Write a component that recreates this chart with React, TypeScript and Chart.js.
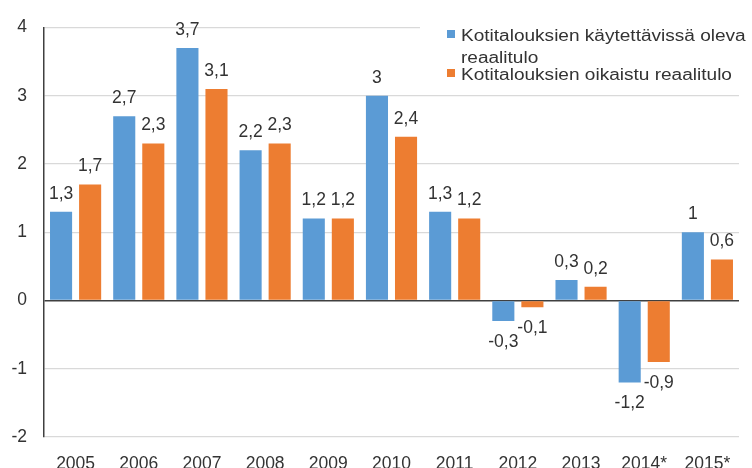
import React, { useEffect, useRef } from "react";
import { Chart, registerables } from "chart.js";

Chart.register(...registerables);

const categories = ["2005", "2006", "2007", "2008", "2009", "2010", "2011", "2012", "2013", "2014*", "2015*"];
const seriesDisposable = [1.3, 2.7, 3.7, 2.2, 1.2, 3, 1.3, -0.3, 0.3, -1.2, 1];
const seriesAdjusted = [1.7, 2.3, 3.1, 2.3, 1.2, 2.4, 1.2, -0.1, 0.2, -0.9, 0.6];
const seriesNames = ["Kotitalouksien käytettävissä oleva reaalitulo", "Kotitalouksien oikaistu reaalitulo"];
const legendLines = [["Kotitalouksien käytettävissä oleva", "reaalitulo"], ["Kotitalouksien oikaistu reaalitulo"]];
const colors = ["#5B9BD5", "#ED7D31"];

const FONT = "'Liberation Sans', Arial, sans-serif";
const TEXT = "#333333";

const labelPlugin = {
  id: "valueLabels",
  afterDatasetsDraw(chart: any) {
    const ctx = chart.ctx;
    ctx.save();
    ctx.font = `17.5px ${FONT}`;
    ctx.fillStyle = TEXT;
    ctx.textAlign = "center";
    ctx.textBaseline = "middle";
    chart.data.datasets.forEach((ds: any, di: number) => {
      const meta = chart.getDatasetMeta(di);
      meta.data.forEach((el: any, i: number) => {
        const v = ds.data[i];
        const txt = String(v).replace(".", ",");
        const y = v >= 0 ? el.y - 18 : el.y + 21;
        ctx.fillText(txt, el.x, y);
      });
    });
    ctx.restore();
  },
  afterDraw(chart: any) {
    const ctx = chart.ctx;
    ctx.save();
    ctx.fillStyle = "#ffffff";
    ctx.fillRect(420, 25, 332, 70);
    ctx.fillStyle = colors[0];
    ctx.fillRect(447, 30, 8, 8);
    ctx.fillStyle = colors[1];
    ctx.fillRect(447, 69, 8, 8);
    ctx.fillStyle = TEXT;
    ctx.font = `16px ${FONT}`;
    ctx.textAlign = "left";
    ctx.textBaseline = "alphabetic";
    const drawLine = (t: string, x: number, y: number) => {
      ctx.save();
      ctx.translate(x, y);
      ctx.scale(1.19, 1);
      ctx.fillText(t, 0, 0);
      ctx.restore();
    };
    drawLine(legendLines[0][0], 461, 41);
    drawLine(legendLines[0][1], 461, 62.5);
    drawLine(legendLines[1][0], 461, 80);
    ctx.restore();
  },
};

export default function App() {
  const ref = useRef<HTMLCanvasElement>(null);
  useEffect(() => {
    document.body.style.margin = "0";
    const chart = new Chart(ref.current as HTMLCanvasElement, {
      type: "bar",
      data: {
        labels: categories,
        datasets: [
          { label: seriesNames[0], data: seriesDisposable, backgroundColor: colors[0] },
          { label: seriesNames[1], data: seriesAdjusted, backgroundColor: colors[1] },
        ],
      },
      options: {
        responsive: false,
        animation: false,
        layout: { padding: { top: 22, right: 13, left: 0, bottom: 0 } },
        datasets: { bar: { categoryPercentage: 0.92, barPercentage: 0.76 } },
        plugins: { legend: { display: false }, tooltip: { enabled: false } },
        scales: {
          x: {
            grid: { display: false },
            border: { display: false },
            ticks: { color: TEXT, font: { family: FONT, size: 17.5 }, padding: 9, maxRotation: 0, autoSkip: false },
            afterFit: (s: any) => { s.height = 31; },
          },
          y: {
            min: -2,
            max: 4,
            ticks: { stepSize: 1, color: TEXT, font: { family: FONT, size: 17.5 }, padding: 17 },
            grid: {
              drawTicks: false,
              color: (c: any) => (c.tick && c.tick.value === 0 ? "#404040" : "#d9d9d9"),
              lineWidth: (c: any) => (c.tick && c.tick.value === 0 ? 1.5 : 1.2),
            },
            border: { display: true, color: "#404040", width: 1.5 },
            afterFit: (s: any) => { s.width = 44; },
          },
        },
      },
      plugins: [labelPlugin],
    });
    return () => chart.destroy();
  }, []);
  return (
    <div style={{ width: 752, height: 468 }}>
      <canvas ref={ref} width={752} height={468} />
    </div>
  );
}
